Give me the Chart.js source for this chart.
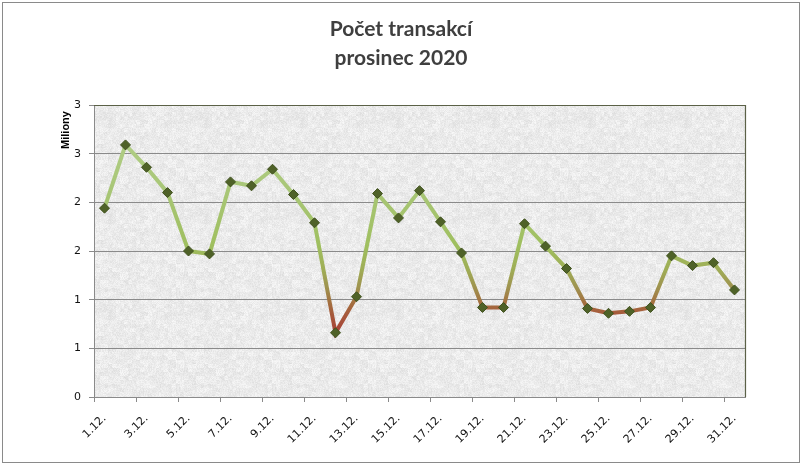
<!DOCTYPE html>
<html lang="cs">
<head>
    <meta charset="UTF-8">
    <title>Počet transakcí</title>
    <script src="https://cdn.jsdelivr.net/npm/chart.js@4.4.1/dist/chart.umd.min.js"></script>
    <style>
        html, body { margin: 0; padding: 0; background: #fff; }
        .chart-box { width: 802px; height: 466px; position: relative; }
    </style>
</head>
<body>
    <div class="chart-box">
        <canvas id="txChart"></canvas>
    </div>

    <script>
        // dny v prosinci 2020
        const days = ['1.12.', '2.12.', '3.12.', '4.12.', '5.12.', '6.12.', '7.12.', '8.12.',
            '9.12.', '10.12.', '11.12.', '12.12.', '13.12.', '14.12.', '15.12.', '16.12.',
            '17.12.', '18.12.', '19.12.', '20.12.', '21.12.', '22.12.', '23.12.', '24.12.',
            '25.12.', '26.12.', '27.12.', '28.12.', '29.12.', '30.12.', '31.12.'];

        // pocet transakci v milionech
        const transactions = [1.94, 2.59, 2.36, 2.10, 1.50, 1.47, 2.21, 2.17,
            2.34, 2.08, 1.79, 0.66, 1.03, 2.09, 1.84, 2.12,
            1.80, 1.48, 0.92, 0.92, 1.78, 1.55, 1.32, 0.91,
            0.86, 0.88, 0.92, 1.45, 1.35, 1.38, 1.10];

        const titleLines = ['Počet transakcí', 'prosinec 2020'];
        const unitLabel = 'Miliony';
        const yMin = 0, yMax = 3, yStep = 0.5;

        // barvy cary podle hodnoty (zelena nahore, cervena dole)
        const lineStops = [
            [0.60, '#a83a35'], [0.85, '#a6593b'], [0.97, '#a4703f'],
            [1.12, '#9f924f'], [1.32, '#9fae56'], [1.55, '#9fbf5f'],
            [2.10, '#a8c676'], [3.00, '#b6d290']
        ];

        function makeTexture() {
            const size = 96;
            const c = document.createElement('canvas');
            c.width = size; c.height = size;
            const g = c.getContext('2d');
            const img = g.createImageData(size, size);
            const hash = (x, y) => {
                let h = (x * 374761393 + y * 668265263) | 0;
                h = (h ^ (h >>> 13)) * 1274126177 | 0;
                return ((h ^ (h >>> 16)) >>> 0) / 4294967295;
            };
            for (let y = 0; y < size; y++) {
                for (let x = 0; x < size; x++) {
                    const fine = hash(x, y) - 0.5;
                    const blob = hash(x >> 2, y >> 2) - 0.5;
                    const v = Math.min(255, Math.round(235 + fine * 16 + blob * 12));
                    const i = (y * size + x) * 4;
                    img.data[i] = v; img.data[i + 1] = v; img.data[i + 2] = v; img.data[i + 3] = 255;
                }
            }
            g.putImageData(img, 0, 0);
            return c;
        }

        const decorPlugin = {
            id: 'decor',
            beforeDraw(chart) {
                const { ctx, chartArea, width, height } = chart;
                ctx.save();
                ctx.fillStyle = '#ffffff';
                ctx.fillRect(0, 0, width, height);
                ctx.strokeStyle = '#8a8a8a';
                ctx.lineWidth = 1;
                ctx.strokeRect(2.5, 2.5, 797, 460);

                ctx.fillStyle = ctx.createPattern(makeTexture(), 'repeat');
                ctx.fillRect(chartArea.left, chartArea.top,
                    chartArea.right - chartArea.left, chartArea.bottom - chartArea.top);

                ctx.fillStyle = '#3f3f3f';
                ctx.font = 'bold 21px Lato';
                ctx.textAlign = 'center';
                ctx.textBaseline = 'alphabetic';
                ctx.fillText(titleLines[0], 401, 36);
                ctx.fillText(titleLines[1], 401, 65);

                ctx.fillStyle = '#000000';
                ctx.font = 'bold 11px "Liberation Sans"';
                ctx.translate(69, 130);
                ctx.rotate(-Math.PI / 2);
                ctx.textBaseline = 'alphabetic';
                ctx.fillText(unitLabel, 0, 0);
                ctx.restore();
            },
            beforeDatasetsDraw(chart) {
                const { ctx, chartArea } = chart;
                ctx.save();
                ctx.strokeStyle = '#5b6147';
                ctx.lineWidth = 1.2;
                ctx.beginPath();
                ctx.moveTo(chartArea.left, chartArea.top + 0.5);
                ctx.lineTo(chartArea.right + 0.5, chartArea.top + 0.5);
                ctx.lineTo(chartArea.right + 0.5, chartArea.bottom);
                ctx.stroke();
                ctx.restore();
            }
        };

        function lineGradient(context) {
            const chart = context.chart;
            const yScale = chart.scales.y;
            if (!chart.chartArea || !yScale) return lineStops[lineStops.length - 1][1];
            const y0 = yScale.getPixelForValue(yMin);
            const y1 = yScale.getPixelForValue(yMax);
            const grad = chart.ctx.createLinearGradient(0, y0, 0, y1);
            lineStops.forEach(([v, col]) => grad.addColorStop((v - yMin) / (yMax - yMin), col));
            return grad;
        }

        const tickFont = { family: '"DejaVu Sans"', size: 11 };

        new Chart(document.getElementById('txChart'), {
            type: 'line',
            data: {
                labels: days,
                datasets: [{
                    label: 'Počet transakcí',
                    data: transactions,
                    borderColor: lineGradient,
                    borderWidth: 4,
                    tension: 0,
                    pointStyle: 'rectRot',
                    pointRadius: 5,
                    pointHoverRadius: 5,
                    pointBackgroundColor: '#4f6228',
                    pointBorderColor: '#41521f',
                    pointBorderWidth: 1
                }]
            },
            options: {
                responsive: true,
                maintainAspectRatio: false,
                animation: false,
                layout: { padding: { top: 105, right: 57, left: 0, bottom: 0 } },
                plugins: {
                    legend: { display: false },
                    title: { display: false },
                    tooltip: { enabled: false }
                },
                scales: {
                    x: {
                        offset: true,
                        afterFit(scale) { scale.height = 69; },
                        grid: {
                            offset: true,
                            drawOnChartArea: false,
                            tickLength: 5,
                            tickColor: (ctx) => ctx.index % 2 === 0 ? '#8a8a8a' : 'rgba(0,0,0,0)'
                        },
                        border: { color: '#8a8a8a' },
                        ticks: {
                            autoSkip: false,
                            minRotation: 45,
                            maxRotation: 45,
                            padding: 10,
                            color: '#111',
                            font: tickFont,
                            callback: (value, index) => index % 2 === 0 ? days[index] : ''
                        }
                    },
                    y: {
                        min: yMin,
                        max: yMax,
                        afterFit(scale) { scale.width = 94; },
                        grid: { color: '#8a8a8a', tickLength: 5 },
                        border: { color: '#8a8a8a' },
                        ticks: {
                            stepSize: yStep,
                            padding: 8,
                            color: '#111',
                            font: tickFont,
                            callback: (value) => String(Math.round(value))
                        }
                    }
                }
            },
            plugins: [decorPlugin]
        });
    </script>
</body>
</html>
